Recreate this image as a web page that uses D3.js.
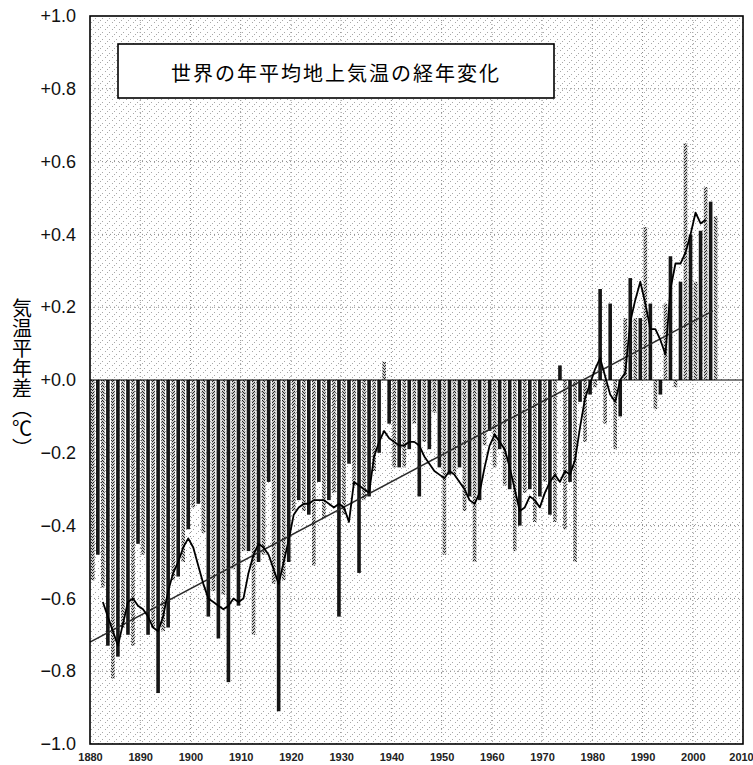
<!DOCTYPE html>
<html>
<head>
<meta charset="utf-8">
<script src="https://cdn.jsdelivr.net/npm/d3@7"></script>
<style>
  body { margin: 0; background: #fff; }
  svg { display: block; }
  .yaxis text { font-family: "Liberation Sans", Arial, sans-serif; font-size: 18px; fill: #111; }
  .xaxis text { font-family: "Liberation Sans Narrow", "Liberation Sans", sans-serif; font-size: 11px; font-weight: bold; fill: #222; }
</style>
</head>
<body>
<svg width="753" height="765"></svg>
<script>
// yearly anomaly bars, 1880 onward (deg C, from 1971-2000 normal)
const firstYear = 1880;
const anomalies = [
  -0.55, -0.48, -0.57, -0.73, -0.82, -0.76, -0.68, -0.70, -0.73, -0.45,
  -0.48, -0.70, -0.68, -0.86, -0.69, -0.68, -0.55, -0.54, -0.50, -0.41,
  -0.35, -0.34, -0.42, -0.65, -0.58, -0.71, -0.59, -0.83, -0.52, -0.62,
  -0.47, -0.47, -0.70, -0.50, -0.48, -0.28, -0.56, -0.91, -0.55, -0.50,
  -0.36, -0.33, -0.36, -0.37, -0.51, -0.28, -0.38, -0.33, -0.31, -0.65,
  -0.37, -0.23, -0.29, -0.53, -0.33, -0.32, -0.25, -0.20,  0.05, -0.12,
  -0.24, -0.24, -0.24, -0.19, -0.12, -0.32, -0.17, -0.19, -0.09, -0.24,
  -0.48, -0.26, -0.26, -0.24, -0.36, -0.32, -0.50, -0.33, -0.18, -0.14,
  -0.24, -0.19, -0.29, -0.30, -0.47, -0.40, -0.31, -0.30, -0.39, -0.32,
  -0.28, -0.37, -0.39,  0.04, -0.41, -0.28, -0.50, -0.06, -0.17, -0.04,
  -0.02,  0.25, -0.12,  0.21, -0.19, -0.10,  0.17,  0.28,  0.17,  0.17,
   0.42,  0.21, -0.08, -0.04,  0.21,  0.34, -0.02,  0.27,  0.65,  0.40,
   0.27,  0.41,  0.53,  0.49,  0.45
];

// 5-year running mean line, 1882 onward
const meanStart = 1882;
const runningMean = [
  -0.61, -0.65, -0.69, -0.73, -0.67, -0.61, -0.60, -0.62,
  -0.63, -0.65, -0.68, -0.69, -0.65, -0.58, -0.53, -0.50, -0.46, -0.435,
  -0.46, -0.51, -0.56, -0.60, -0.61, -0.62, -0.63, -0.62, -0.60, -0.61,
  -0.60, -0.53, -0.48, -0.45, -0.46, -0.48, -0.52, -0.56, -0.50, -0.44,
  -0.37, -0.35, -0.34, -0.34, -0.33, -0.33, -0.33, -0.34, -0.35, -0.34,
  -0.35, -0.39, -0.28, -0.29, -0.30, -0.31, -0.21, -0.17, -0.14, -0.16,
  -0.17, -0.18, -0.18, -0.17, -0.17, -0.18, -0.21, -0.23, -0.25, -0.26,
  -0.27, -0.25, -0.26, -0.28, -0.30, -0.33, -0.34, -0.31, -0.24, -0.18,
  -0.15, -0.17, -0.19, -0.24, -0.30, -0.36, -0.35, -0.32, -0.33, -0.35,
  -0.31, -0.28, -0.26, -0.28, -0.25, -0.26, -0.22, -0.13, -0.05, -0.01,
   0.03,  0.06,  0.01, -0.04, -0.06,  0.00,  0.02,  0.16,  0.22,  0.27,
   0.21,  0.14,  0.14,  0.11,  0.07,  0.25,  0.32,  0.32,  0.35,  0.40,
   0.46,  0.43,  0.44
];

// long-term linear trend
const trendYears = [1880, 2004];
const trendValues = [-0.72, 0.19];

const yTicks = [1.0, 0.8, 0.6, 0.4, 0.2, 0.0, -0.2, -0.4, -0.6, -0.8, -1.0];
const yTickLabels = ["+1.0", "+0.8", "+0.6", "+0.4", "+0.2", "+0.0", "\u22120.2", "\u22120.4", "\u22120.6", "\u22120.8", "\u22121.0"];
const xTicks = [1880, 1890, 1900, 1910, 1920, 1930, 1940, 1950, 1960, 1970, 1980, 1990, 2000, 2010];

const chartTitle = "世界の年平均地上気温の経年変化";
const yTitle = "気温平年差（℃）";

const svg = d3.select("svg");

const x = d3.scaleLinear().domain([1880, 2010]).range([90, 743]);
const y = d3.scaleLinear().domain([-1, 1]).range([744, 16]);

// screen-tone textures
const defs = svg.append("defs");
const bg = defs.append("pattern")
    .attr("id", "tone")
    .attr("width", 7).attr("height", 7)
    .attr("patternUnits", "userSpaceOnUse");
[[0, 1], [4, 4], [2, 6]].forEach(function(p) {
    bg.append("rect").attr("x", p[0]).attr("y", p[1])
        .attr("width", 1).attr("height", 1).attr("fill", "#a8a8a8");
});

const barTone = defs.append("pattern")
    .attr("id", "barTone")
    .attr("width", 4).attr("height", 3)
    .attr("patternUnits", "userSpaceOnUse");
barTone.append("rect").attr("width", 4).attr("height", 3).attr("fill", "#c8c8c8");
[[0, 0], [2, 1], [1, 2], [3, 2]].forEach(function(p) {
    barTone.append("rect").attr("x", p[0]).attr("y", p[1])
        .attr("width", 1).attr("height", 1).attr("fill", "#222");
});

svg.append("rect")
    .attr("x", x(1880)).attr("y", y(1))
    .attr("width", x(2010) - x(1880)).attr("height", y(-1) - y(1))
    .attr("fill", "url(#tone)");

// dotted grid
svg.append("g").selectAll("line")
    .data(xTicks.slice(1, -1))
    .enter().append("line")
        .attr("x1", function(d) { return x(d); })
        .attr("x2", function(d) { return x(d); })
        .attr("y1", y(1)).attr("y2", y(-1))
        .attr("stroke", "#8a8a8a")
        .attr("stroke-dasharray", "1,3");

svg.append("g").selectAll("line")
    .data(yTicks.filter(function(d) { return Math.abs(d) > 0.01 && Math.abs(d) < 0.99; }))
    .enter().append("line")
        .attr("x1", x(1880)).attr("x2", x(2010))
        .attr("y1", function(d) { return y(d); })
        .attr("y2", function(d) { return y(d); })
        .attr("stroke", "#8a8a8a")
        .attr("stroke-dasharray", "1,3");

// bars
svg.append("g").selectAll("rect")
    .data(anomalies)
    .enter().append("rect")
        .attr("x", function(d, i) { return x(firstYear + i) + 1; })
        .attr("width", 3.6)
        .attr("y", function(d) { return y(Math.max(0, d)); })
        .attr("height", function(d) { return Math.abs(y(d) - y(0)); })
        .attr("fill", function(d, i) { return i % 2 == 0 ? "url(#barTone)" : "#151515"; });

// zero line
svg.append("line")
    .attr("x1", x(1880)).attr("x2", x(2010))
    .attr("y1", y(0)).attr("y2", y(0))
    .attr("stroke", "#000").attr("stroke-width", 1.2);

// trend line
svg.append("line")
    .attr("x1", x(trendYears[0])).attr("y1", y(trendValues[0]))
    .attr("x2", x(trendYears[1])).attr("y2", y(trendValues[1]))
    .attr("stroke", "#2a2a2a").attr("stroke-width", 1.5);

// running mean
const line = d3.line()
    .x(function(d, i) { return x(meanStart + i) + 2.8; })
    .y(function(d) { return y(d); });

svg.append("path")
    .datum(runningMean)
    .attr("d", line)
    .attr("fill", "none")
    .attr("stroke", "#000")
    .attr("stroke-width", 1.8)
    .attr("stroke-linejoin", "round");

// frame
svg.append("rect")
    .attr("x", x(1880)).attr("y", y(1))
    .attr("width", x(2010) - x(1880)).attr("height", y(-1) - y(1))
    .attr("fill", "none")
    .attr("stroke", "#000").attr("stroke-width", 1.6);

// axes
const yAxis = d3.axisLeft(y)
    .tickValues(yTicks)
    .tickFormat(function(d, i) { return yTickLabels[i]; })
    .tickSize(0)
    .tickPadding(14);
svg.append("g")
    .attr("class", "yaxis")
    .attr("transform", "translate(" + x(1880) + ",0)")
    .call(yAxis)
    .call(function(g) { g.select(".domain").remove(); });

const xAxis = d3.axisBottom(x)
    .tickValues(xTicks)
    .tickFormat(d3.format("d"))
    .tickSize(0)
    .tickPadding(9);
svg.append("g")
    .attr("class", "xaxis")
    .attr("transform", "translate(0," + y(-1) + ")")
    .call(xAxis)
    .call(function(g) {
        g.select(".domain").remove();
        // keep the last label inside the page
        g.selectAll(".tick text").filter(function(d) { return d == 2010; }).attr("dx", -2);
    });

// title box
svg.append("rect")
    .attr("x", 118).attr("y", 44)
    .attr("width", 436).attr("height", 54)
    .attr("fill", "#fff")
    .attr("stroke", "#000").attr("stroke-width", 1.6);

svg.append("text")
    .attr("x", 336).attr("y", 72)
    .attr("text-anchor", "middle")
    .attr("dominant-baseline", "central")
    .style("font-family", "'Noto Sans CJK JP', sans-serif")
    .style("font-size", "20px")
    .style("letter-spacing", "2px")
    .text(chartTitle);

// vertical axis title
svg.append("text")
    .attr("x", 22).attr("y", 378)
    .attr("text-anchor", "middle")
    .style("writing-mode", "vertical-rl")
    .style("font-family", "'Noto Sans CJK JP', sans-serif")
    .style("font-size", "20px")
    .text(yTitle);
</script>
</body>
</html>
